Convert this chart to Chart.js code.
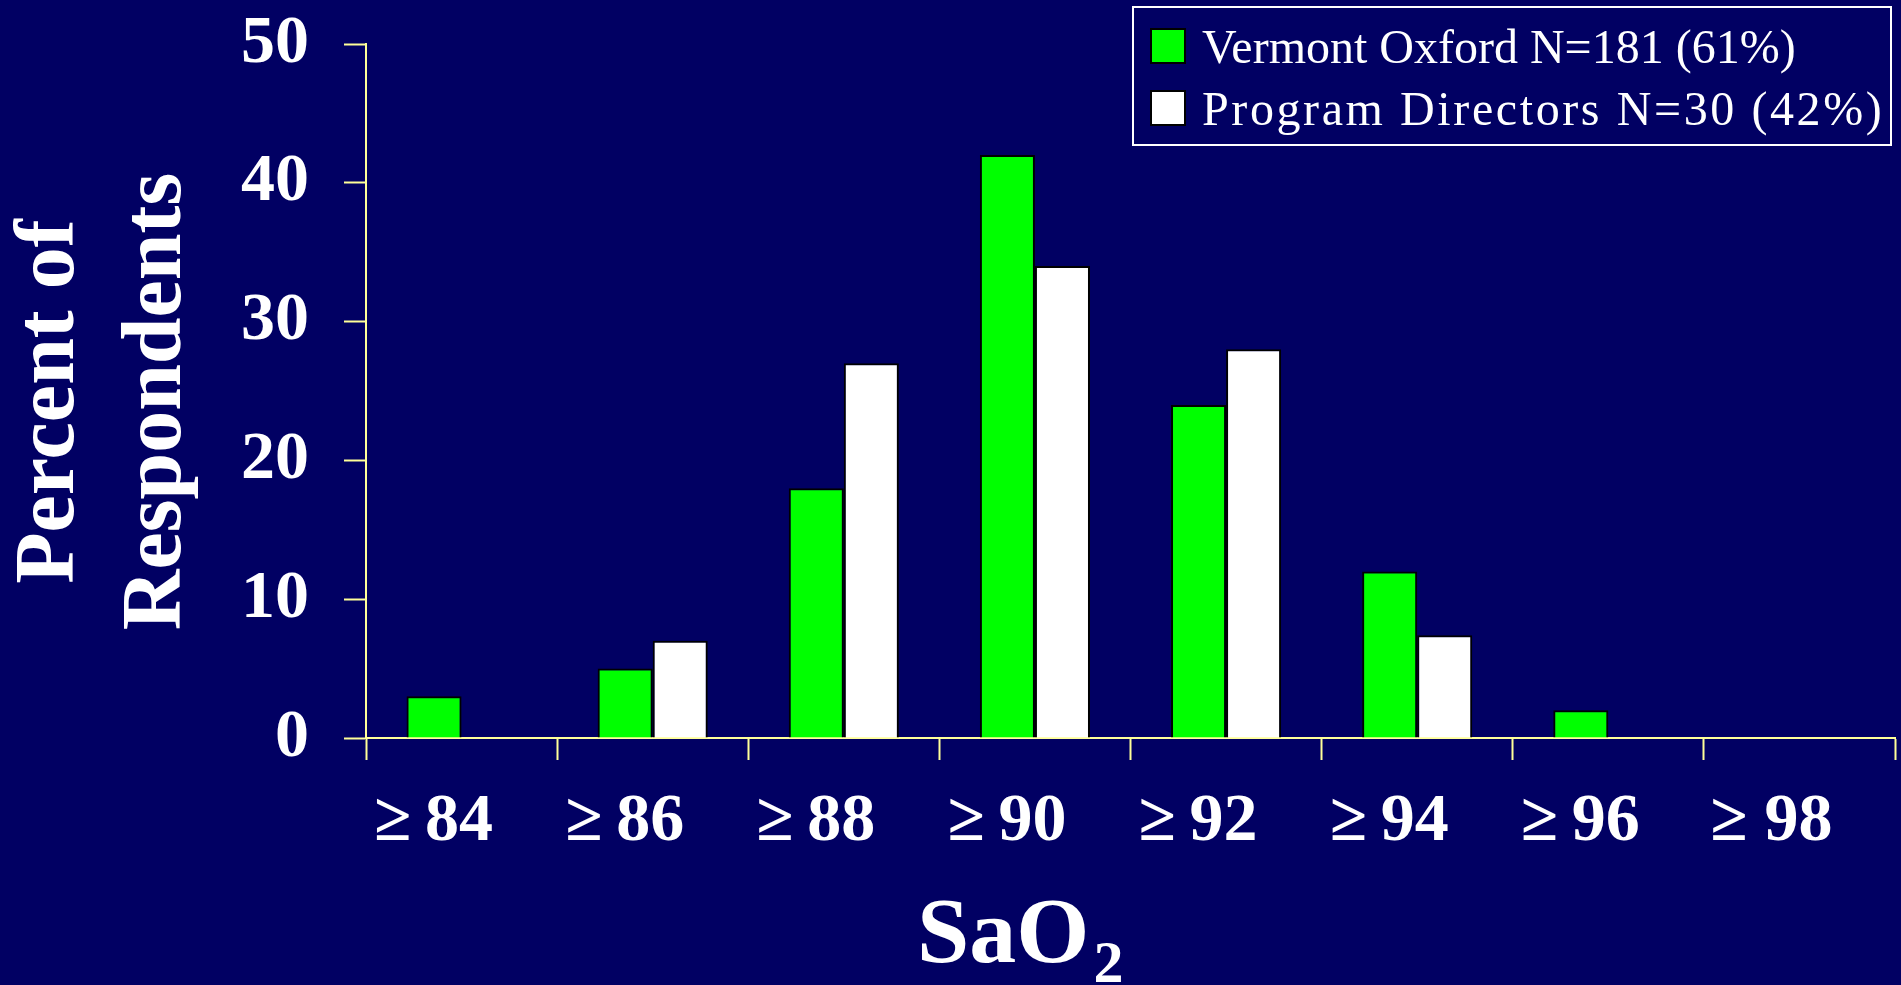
<!DOCTYPE html>
<html>
<head>
<meta charset="utf-8">
<script src="https://cdn.jsdelivr.net/npm/chart.js@4.4.1/dist/chart.umd.min.js"></script>
<style>
  html, body { margin: 0; padding: 0; background: #010063; }
  #wrap { position: relative; width: 1901px; height: 985px; }
</style>
</head>
<body>
<div id="wrap"><canvas id="canv"></canvas></div>
<script>
// data
const labels = ['≥\u200984', '≥\u200986', '≥\u200988', '≥\u200990', '≥\u200992', '≥\u200994', '≥\u200996', '≥ 98']
const vermont = [3, 5, 18, 42, 24, 12, 2, 0]
const directors = [0, 7, 27, 34, 28, 7.4, 0, 0]
const seriesNames = ['Vermont Oxford N=181 (61%)', 'Program Directors N=30 (42%)']
const yMax = 50
const yStep = 10

const navy = '#010063'
const axisYellow = '#ffff99'
const serif = "'Liberation Serif', 'Times New Roman', serif"

// paint the slide background
const background = {
  id: 'background',
  beforeDraw(chart) {
    const ctx = chart.ctx
    ctx.save()
    ctx.fillStyle = navy
    ctx.fillRect(0, 0, chart.width, chart.height)
    ctx.restore()
  }
}

// boxed legend sitting over the top right corner + the SaO2 axis title
const slideBits = {
  id: 'slideBits',
  afterDraw(chart) {
    const ctx = chart.ctx
    ctx.save()

    ctx.fillStyle = navy
    ctx.fillRect(1133, 7, 758, 138)
    ctx.strokeStyle = '#ffffff'
    ctx.lineWidth = 2
    ctx.strokeRect(1133, 7, 758, 138)

    ctx.font = `48px ${serif}`
    ctx.textBaseline = 'alphabetic'
    let spacing = ['0px', '2.6px']
    chart.data.datasets.forEach((ds, i) => {
      let y = 29 + i * 62
      ctx.fillStyle = ds.backgroundColor
      ctx.fillRect(1151, y, 34, 34)
      ctx.strokeStyle = '#000000'
      ctx.lineWidth = 2
      ctx.strokeRect(1151, y, 34, 34)
      ctx.fillStyle = '#ffffff'
      ctx.letterSpacing = spacing[i]
      ctx.fillText(ds.label, 1202, y + 34)
    })
    ctx.letterSpacing = '0px'

    // SaO2 with a real subscript
    ctx.fillStyle = '#ffffff'
    ctx.font = `bold 94px ${serif}`
    ctx.fillText('SaO', 917, 962)
    let w = ctx.measureText('SaO').width
    ctx.font = `bold 60px ${serif}`
    ctx.fillText('2', 917 + w + 4, 982)

    ctx.restore()
  }
}

new Chart(document.getElementById('canv'), {
  type: 'bar',
  data: {
    labels: labels,
    datasets: [
      {
        label: seriesNames[0],
        data: vermont,
        backgroundColor: '#00ff00',
        borderColor: '#000000',
        borderWidth: 2
      },
      {
        label: seriesNames[1],
        data: directors,
        backgroundColor: '#ffffff',
        borderColor: '#000000',
        borderWidth: 2
      }
    ]
  },
  options: {
    responsive: true,
    maintainAspectRatio: false,
    animation: false,
    layout: { padding: { top: 44, right: 6, left: 0, bottom: 0 } },
    datasets: {
      bar: { barPercentage: 1, categoryPercentage: 0.576 }
    },
    plugins: {
      legend: { display: false },
      tooltip: { enabled: false }
    },
    scales: {
      x: {
        offset: true,
        border: { color: axisYellow, width: 2 },
        grid: {
          offset: true,
          drawOnChartArea: false,
          drawTicks: true,
          tickLength: 22,
          tickColor: axisYellow,
          tickWidth: 2
        },
        ticks: {
          color: '#ffffff',
          font: { family: serif, size: 68, weight: 'bold' },
          padding: 22,
          labelOffset: -28,
          maxRotation: 0,
          autoSkip: false
        },
        afterFit(scale) { scale.height = 247 }
      },
      y: {
        min: 0,
        max: yMax,
        border: { color: axisYellow, width: 2 },
        grid: {
          drawOnChartArea: false,
          drawTicks: true,
          tickLength: 22,
          tickColor: axisYellow,
          tickWidth: 2
        },
        ticks: {
          stepSize: yStep,
          color: '#ffffff',
          font: { family: serif, size: 68, weight: 'bold' },
          padding: 35
        },
        title: {
          display: true,
          // trailing space nudges the rotated text down a little, like the slide
          text: ['Percent of ', 'Respondents '],
          color: '#ffffff',
          font: { family: serif, size: 84, weight: 'bold', lineHeight: 1.27 },
          padding: { top: -2, bottom: 0 }
        },
        afterFit(scale) {
          scale.width = 366
          scale.paddingTop = 0
          scale.paddingBottom = 0
        }
      }
    }
  },
  plugins: [background, slideBits]
})
</script>
</body>
</html>
